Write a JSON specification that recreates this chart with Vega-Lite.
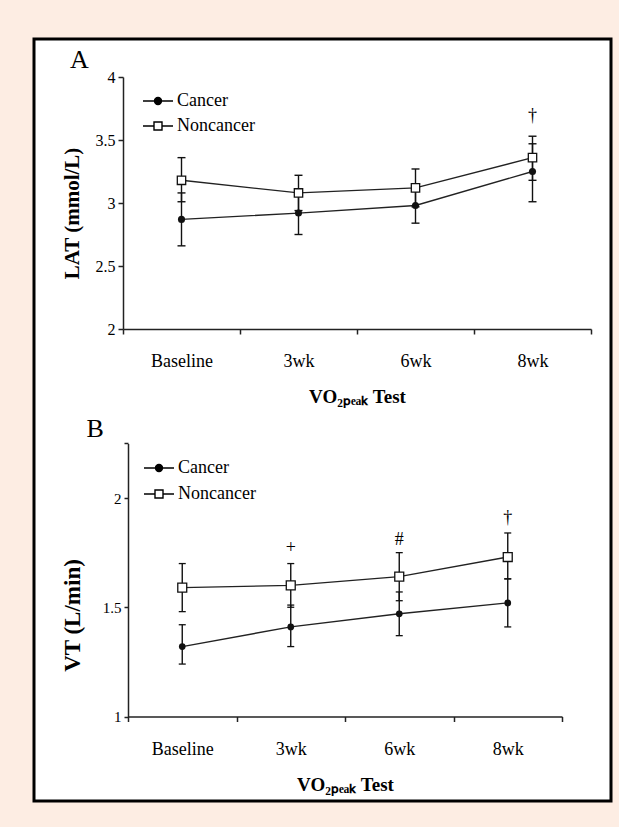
{
  "$schema": "https://vega.github.io/schema/vega-lite/v6.json",
  "width": 577,
  "height": 762,
  "autosize": {"type": "none"},
  "padding": {"left": 34, "top": 39, "right": 8, "bottom": 26},
  "background": "#fdede3",
  "config": {
    "font": "Liberation Serif",
    "view": {"fill": "white", "stroke": "black", "strokeWidth": 3},
    "axis": {
      "grid": false,
      "domainColor": "#222",
      "domainWidth": 1.5,
      "tickColor": "#222",
      "tickWidth": 1.5,
      "tickSize": 5,
      "labelFont": "Liberation Serif",
      "labelFontSize": 18,
      "labelColor": "black",
      "titleFont": "Liberation Serif",
      "titleFontWeight": "bold",
      "titleFontSize": 19,
      "titleColor": "black"
    },
    "legend": {"labelFont": "Liberation Serif", "labelColor": "black"}
  },
  "datasets": {
    "lat": [
      {"test": "Baseline", "group": "Cancer", "mean": 2.87, "lo": 2.66, "hi": 3.08},
      {"test": "3wk", "group": "Cancer", "mean": 2.92, "lo": 2.75, "hi": 3.10},
      {"test": "6wk", "group": "Cancer", "mean": 2.98, "lo": 2.84, "hi": 3.12},
      {"test": "8wk", "group": "Cancer", "mean": 3.25, "lo": 3.01, "hi": 3.47},
      {"test": "Baseline", "group": "Noncancer", "mean": 3.18, "lo": 3.01, "hi": 3.36},
      {"test": "3wk", "group": "Noncancer", "mean": 3.08, "lo": 2.94, "hi": 3.22},
      {"test": "6wk", "group": "Noncancer", "mean": 3.12, "lo": 2.97, "hi": 3.27},
      {"test": "8wk", "group": "Noncancer", "mean": 3.36, "lo": 3.18, "hi": 3.53}
    ],
    "vt": [
      {"test": "Baseline", "group": "Cancer", "mean": 1.32, "lo": 1.24, "hi": 1.42},
      {"test": "3wk", "group": "Cancer", "mean": 1.41, "lo": 1.32, "hi": 1.51},
      {"test": "6wk", "group": "Cancer", "mean": 1.47, "lo": 1.37, "hi": 1.57},
      {"test": "8wk", "group": "Cancer", "mean": 1.52, "lo": 1.41, "hi": 1.63},
      {"test": "Baseline", "group": "Noncancer", "mean": 1.59, "lo": 1.48, "hi": 1.70},
      {"test": "3wk", "group": "Noncancer", "mean": 1.60, "lo": 1.50, "hi": 1.70},
      {"test": "6wk", "group": "Noncancer", "mean": 1.64, "lo": 1.53, "hi": 1.75},
      {"test": "8wk", "group": "Noncancer", "mean": 1.73, "lo": 1.63, "hi": 1.84}
    ],
    "markA": [{"test": "8wk", "y": 3.69, "label": "†"}],
    "markB": [
      {"test": "3wk", "y": 1.77, "label": "+"},
      {"test": "6wk", "y": 1.81, "label": "#"},
      {"test": "8wk", "y": 1.91, "label": "†"}
    ],
    "panelA": [{"test": "Baseline", "y": 4.135, "label": "A"}],
    "panelB": [{"test": "Baseline", "y": 2.316, "label": "B"}]
  },
  "layer": [
    {
      "encoding": {
        "x": {
          "field": "test", "type": "nominal",
          "sort": ["Baseline", "3wk", "6wk", "8wk"],
          "title": "VO₂ₚₑₐₖ Test",
          "scale": {"domain": ["Baseline", "3wk", "6wk", "8wk"], "range": [89, 557], "paddingInner": 0, "paddingOuter": 0},
          "axis": {"orient": "bottom", "offset": -472, "tickBand": "extent", "labelAngle": 0, "labelPadding": 18, "titlePadding": 17}
        }
      },
      "layer": [
        {
          "data": {"name": "lat"},
          "mark": {"type": "rule", "color": "#111", "strokeWidth": 1.4},
          "encoding": {
            "y": {
              "field": "lo", "type": "quantitative", "title": "LAT (mmol/L)",
              "scale": {"domain": [2, 4], "range": [290, 38], "zero": false, "nice": false},
              "axis": {"orient": "left", "offset": -89, "values": [2, 2.5, 3, 3.5, 4], "format": "~g", "labelFontSize": 16, "labelPadding": 3, "titlePadding": 13, "titleFontSize": 21, "titleY": 174}
            },
            "y2": {"field": "hi"}
          }
        },
        {
          "data": {"name": "lat"},
          "mark": {"type": "tick", "color": "#111", "size": 8, "thickness": 1.4, "opacity": 1},
          "encoding": {"y": {"field": "lo", "type": "quantitative", "title": "LAT (mmol/L)"}}
        },
        {
          "data": {"name": "lat"},
          "mark": {"type": "tick", "color": "#111", "size": 8, "thickness": 1.4, "opacity": 1},
          "encoding": {"y": {"field": "hi", "type": "quantitative", "title": "LAT (mmol/L)"}}
        },
        {
          "data": {"name": "lat"},
          "mark": {"type": "line", "color": "#222", "strokeWidth": 1.4},
          "encoding": {"y": {"field": "mean", "type": "quantitative", "title": "LAT (mmol/L)"}, "detail": {"field": "group"}}
        },
        {
          "data": {"name": "lat"},
          "mark": {"type": "point", "opacity": 0, "stroke": "black"},
          "encoding": {
            "y": {"field": "mean", "type": "quantitative", "title": "LAT (mmol/L)"},
            "shape": {
              "field": "group", "type": "nominal",
              "scale": {"domain": ["Cancer", "Noncancer"], "range": ["M-1.5,0H1.5M0.35,0A0.35,0.35,0,1,1,-0.35,0A0.35,0.35,0,1,1,0.35,0Z", "M-1.5,0H-0.4M0.4,0H1.5M-0.4,-0.4H0.4V0.4H-0.4Z"]},
              "legend": {"title": null, "orient": "none", "legendX": 113, "legendY": 51, "symbolSize": 400, "symbolStrokeColor": "black", "symbolStrokeWidth": 1.4, "symbolOpacity": 1, "labelFontSize": 18, "labelOffset": 8, "rowPadding": 5,
                "encode": {"symbols": {"update": {"stroke": {"value": "black"}, "strokeWidth": {"value": 1.4}, "opacity": {"value": 1}, "strokeOpacity": {"value": 1}}}}}
            },
            "fill": {
              "field": "group", "type": "nominal",
              "scale": {"domain": ["Cancer", "Noncancer"], "range": ["black", "white"]},
              "legend": {"title": null, "orient": "none", "legendX": 113, "legendY": 51, "symbolSize": 400, "symbolStrokeColor": "black", "symbolStrokeWidth": 1.4, "symbolOpacity": 1, "labelFontSize": 18, "labelOffset": 8, "rowPadding": 5,
                "encode": {"symbols": {"update": {"stroke": {"value": "black"}, "strokeWidth": {"value": 1.4}, "opacity": {"value": 1}, "strokeOpacity": {"value": 1}}}}}
            }
          }
        },
        {
          "data": {"name": "lat"},
          "transform": [{"filter": "datum.group === 'Noncancer'"}],
          "mark": {"type": "point", "shape": "square", "fill": "white", "stroke": "#111", "strokeWidth": 1.3, "size": 70, "opacity": 1, "fillOpacity": 1},
          "encoding": {"y": {"field": "mean", "type": "quantitative", "title": "LAT (mmol/L)"}}
        },
        {
          "data": {"name": "lat"},
          "transform": [{"filter": "datum.group === 'Cancer'"}],
          "mark": {"type": "point", "shape": "circle", "filled": true, "color": "#111", "size": 50, "opacity": 1},
          "encoding": {"y": {"field": "mean", "type": "quantitative", "title": "LAT (mmol/L)"}}
        },
        {
          "data": {"name": "markA"},
          "mark": {"type": "text", "fontSize": 18, "baseline": "middle", "align": "center", "color": "black"},
          "encoding": {"y": {"field": "y", "type": "quantitative", "title": "LAT (mmol/L)"}, "text": {"field": "label"}}
        },
        {
          "data": {"name": "panelA"},
          "mark": {"type": "text", "fontSize": 26, "baseline": "middle", "align": "center", "dx": -102, "color": "black"},
          "encoding": {"y": {"field": "y", "type": "quantitative", "title": "LAT (mmol/L)"}, "text": {"field": "label"}}
        }
      ]
    },
    {
      "encoding": {
        "x": {
          "field": "test", "type": "nominal",
          "sort": ["Baseline", "3wk", "6wk", "8wk"],
          "title": "VO₂ₚₑₐₖ Test",
          "scale": {"domain": ["Baseline", "3wk", "6wk", "8wk"], "range": [94, 528], "paddingInner": 0, "paddingOuter": 0},
          "axis": {"orient": "bottom", "offset": -84.5, "tickBand": "extent", "labelAngle": 0, "labelPadding": 19, "titlePadding": 17}
        }
      },
      "layer": [
        {
          "data": {"name": "vt"},
          "mark": {"type": "rule", "color": "#111", "strokeWidth": 1.4},
          "encoding": {
            "y": {
              "field": "lo", "type": "quantitative", "title": "VT (L/min)",
              "scale": {"domain": [1, 2.25], "range": [677.5, 404.4], "zero": false, "nice": false},
              "axis": {"orient": "left", "offset": -94, "values": [1, 1.5, 2, 2.25], "format": "~g", "labelExpr": "datum.value > 2.2 ? '' : datum.label", "labelFontSize": 15, "labelPadding": 3, "tickSize": 4, "titlePadding": 18, "titleFontSize": 23, "titleY": 576}
            },
            "y2": {"field": "hi"}
          }
        },
        {
          "data": {"name": "vt"},
          "mark": {"type": "tick", "color": "#111", "size": 7, "thickness": 1.3, "opacity": 1},
          "encoding": {"y": {"field": "lo", "type": "quantitative", "title": "VT (L/min)"}}
        },
        {
          "data": {"name": "vt"},
          "mark": {"type": "tick", "color": "#111", "size": 7, "thickness": 1.3, "opacity": 1},
          "encoding": {"y": {"field": "hi", "type": "quantitative", "title": "VT (L/min)"}}
        },
        {
          "data": {"name": "vt"},
          "mark": {"type": "line", "color": "#222", "strokeWidth": 1.4},
          "encoding": {"y": {"field": "mean", "type": "quantitative", "title": "VT (L/min)"}, "detail": {"field": "group"}}
        },
        {
          "data": {"name": "vt"},
          "mark": {"type": "point", "opacity": 0, "stroke": "black"},
          "encoding": {
            "y": {"field": "mean", "type": "quantitative", "title": "VT (L/min)"},
            "shape": {
              "field": "group", "type": "nominal",
              "scale": {"domain": ["Cancer", "Noncancer"], "range": ["M-1.5,0H1.5M0.35,0A0.35,0.35,0,1,1,-0.35,0A0.35,0.35,0,1,1,0.35,0Z", "M-1.5,0H-0.4M0.4,0H1.5M-0.4,-0.4H0.4V0.4H-0.4Z"]},
              "legend": {"title": null, "orient": "none", "legendX": 114, "legendY": 418, "symbolSize": 400, "symbolStrokeColor": "black", "symbolStrokeWidth": 1.4, "symbolOpacity": 1, "labelFontSize": 18, "labelOffset": 8, "rowPadding": 6,
                "encode": {"symbols": {"update": {"stroke": {"value": "black"}, "strokeWidth": {"value": 1.4}, "opacity": {"value": 1}, "strokeOpacity": {"value": 1}}}}}
            },
            "fill": {
              "field": "group", "type": "nominal",
              "scale": {"domain": ["Cancer", "Noncancer"], "range": ["black", "white"]},
              "legend": {"title": null, "orient": "none", "legendX": 114, "legendY": 418, "symbolSize": 400, "symbolStrokeColor": "black", "symbolStrokeWidth": 1.4, "symbolOpacity": 1, "labelFontSize": 18, "labelOffset": 8, "rowPadding": 6,
                "encode": {"symbols": {"update": {"stroke": {"value": "black"}, "strokeWidth": {"value": 1.4}, "opacity": {"value": 1}, "strokeOpacity": {"value": 1}}}}}
            }
          }
        },
        {
          "data": {"name": "vt"},
          "transform": [{"filter": "datum.group === 'Noncancer'"}],
          "mark": {"type": "point", "shape": "square", "fill": "white", "stroke": "#111", "strokeWidth": 1.3, "size": 80, "opacity": 1, "fillOpacity": 1},
          "encoding": {"y": {"field": "mean", "type": "quantitative", "title": "VT (L/min)"}}
        },
        {
          "data": {"name": "vt"},
          "transform": [{"filter": "datum.group === 'Cancer'"}],
          "mark": {"type": "point", "shape": "circle", "filled": true, "color": "#111", "size": 45, "opacity": 1},
          "encoding": {"y": {"field": "mean", "type": "quantitative", "title": "VT (L/min)"}}
        },
        {
          "data": {"name": "markB"},
          "mark": {"type": "text", "fontSize": 18, "baseline": "middle", "align": "center", "color": "black"},
          "encoding": {"y": {"field": "y", "type": "quantitative", "title": "VT (L/min)"}, "text": {"field": "label"}}
        },
        {
          "data": {"name": "panelB"},
          "mark": {"type": "text", "fontSize": 26, "baseline": "middle", "align": "center", "dx": -87, "color": "black"},
          "encoding": {"y": {"field": "y", "type": "quantitative", "title": "VT (L/min)"}, "text": {"field": "label"}}
        }
      ]
    }
  ],
  "resolve": {
    "scale": {"x": "independent", "y": "independent", "shape": "independent", "fill": "independent"},
    "axis": {"x": "independent", "y": "independent"},
    "legend": {"shape": "independent", "fill": "independent"}
  }
}
